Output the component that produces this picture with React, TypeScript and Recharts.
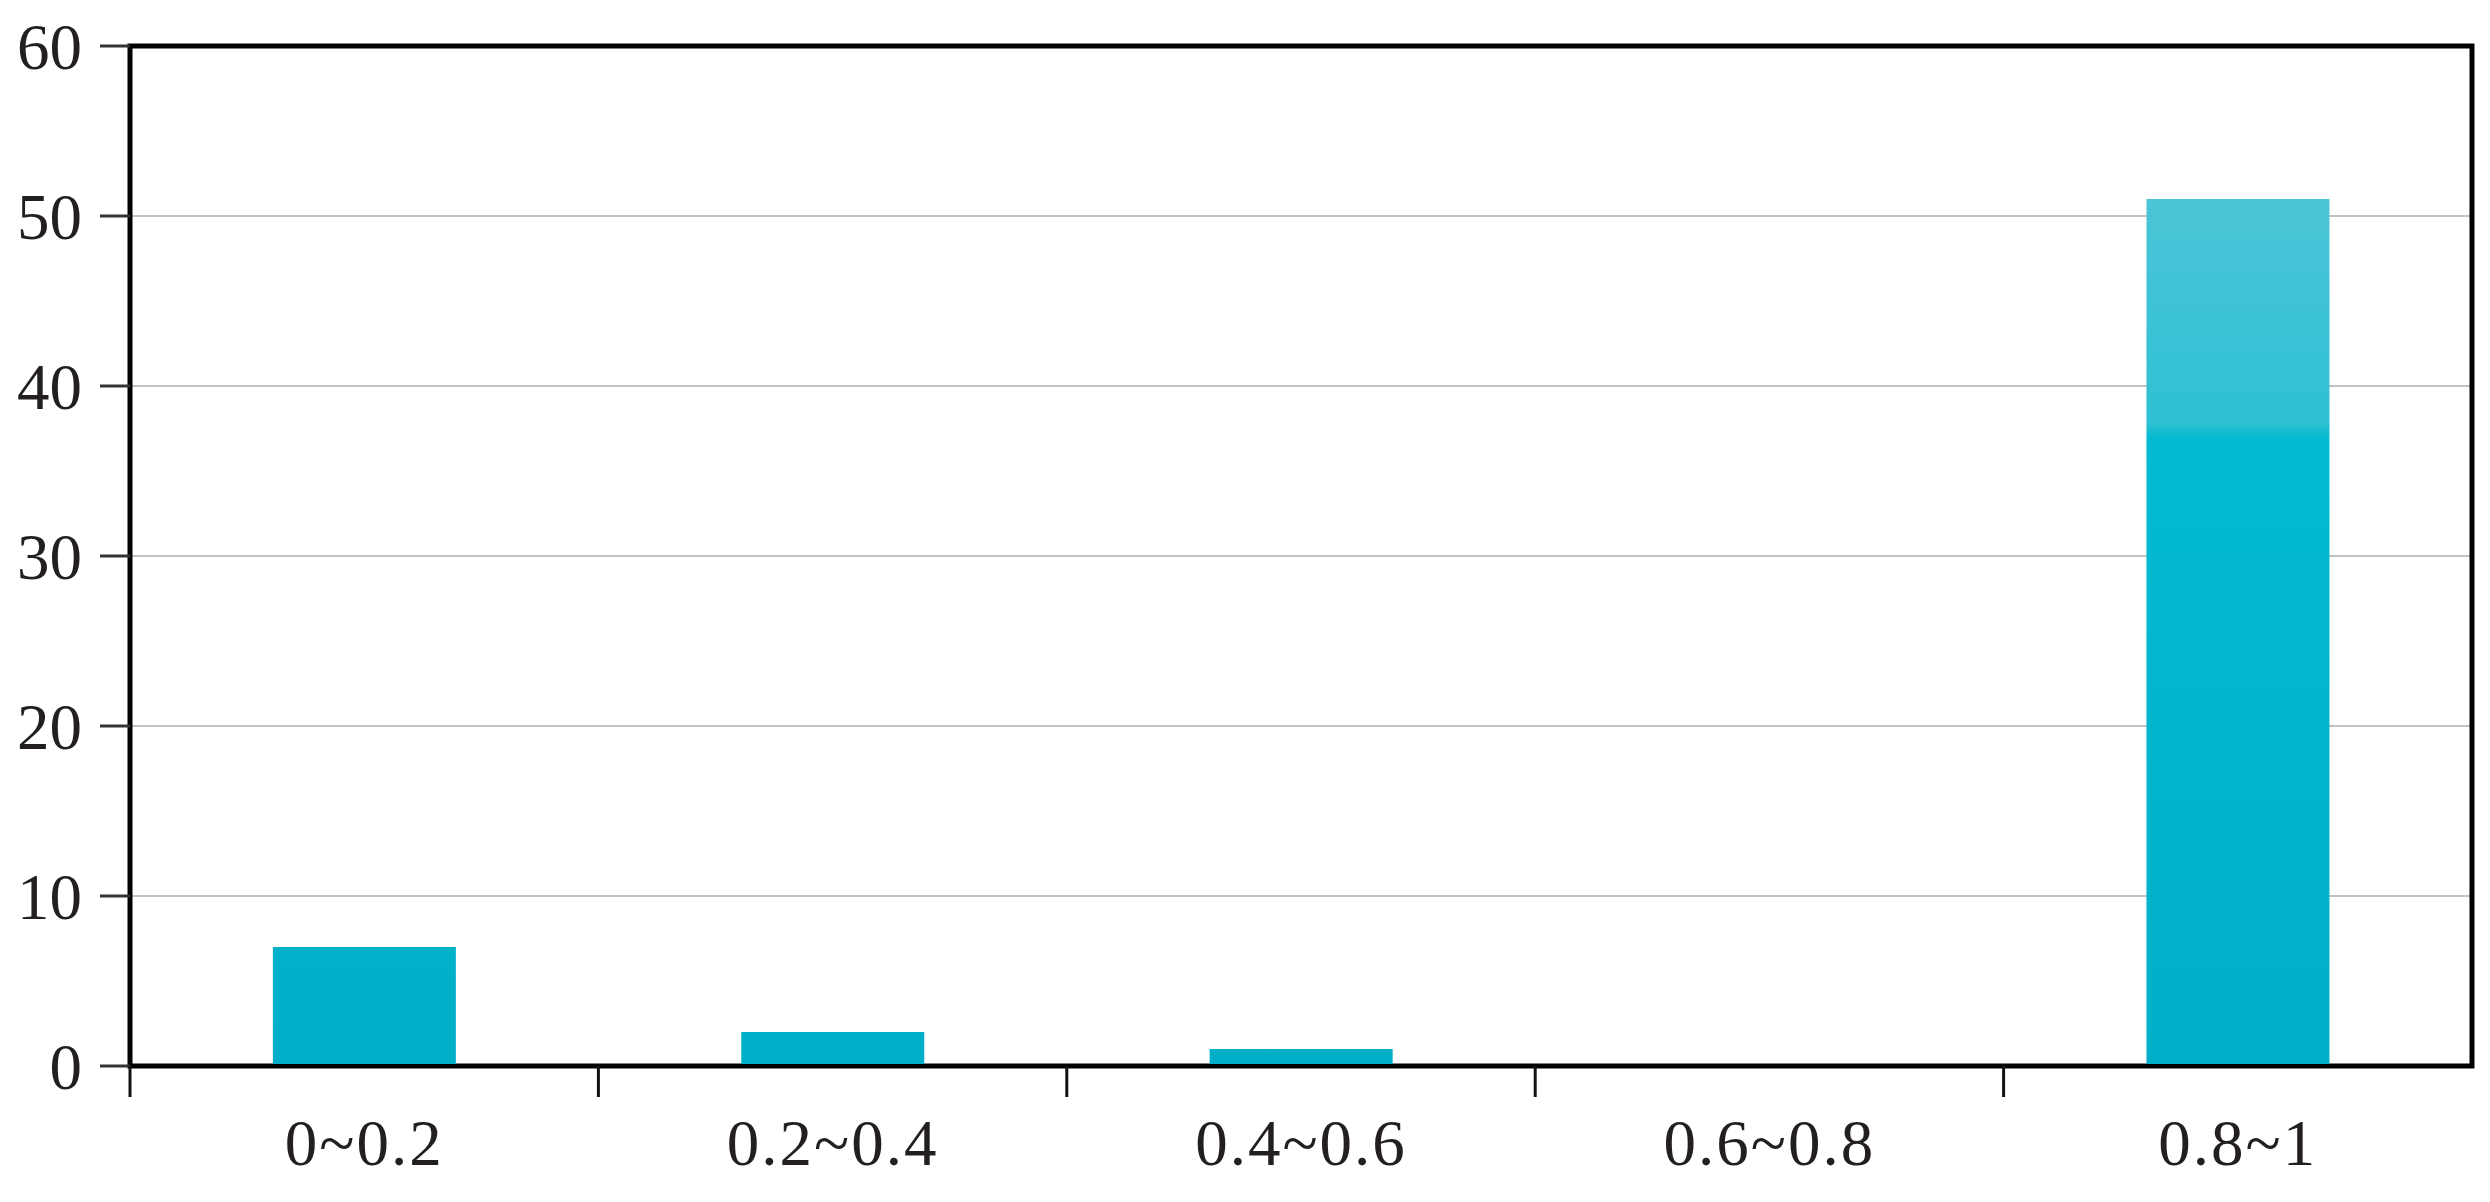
import {
  BarChart,
  Bar,
  XAxis,
  YAxis,
  CartesianGrid,
  ReferenceArea,
} from "recharts";

const categories = ["0~0.2", "0.2~0.4", "0.4~0.6", "0.6~0.8", "0.8~1"];
const counts = [7, 2, 1, 0, 51];
const yTicks = [0, 10, 20, 30, 40, 50, 60];

const data = categories.map((name, i) => ({ name, value: counts[i] }));

const WIDTH = 2490;
const HEIGHT = 1202;
const PLOT_TOP = 46;
const PLOT_BOTTOM = 1066;
const Y_AXIS_W = 130;
const MARGIN_RIGHT = 18;
const HALF_BAND = (WIDTH - Y_AXIS_W - MARGIN_RIGHT) / categories.length / 2;

const FONT = "'Liberation Serif', 'Times New Roman', serif";
const TEXT = "#231f20";

const CategoryTick = (props: any) => {
  const { x, y, payload } = props;
  return (
    <g>
      <line
        x1={x - HALF_BAND}
        x2={x - HALF_BAND}
        y1={y}
        y2={y + 31}
        stroke="#111"
        strokeWidth={3}
      />
      <text
        x={x}
        y={y + 99}
        textAnchor="middle"
        fontFamily={FONT}
        fontSize={65}
        letterSpacing={2}
        fill={TEXT}
      >
        {payload.value}
      </text>
    </g>
  );
};

const App = () => {
  return (
    <div style={{ margin: -8, width: WIDTH, height: HEIGHT, background: "#fff" }}>
      <BarChart
        width={WIDTH}
        height={HEIGHT}
        data={data}
        margin={{ top: PLOT_TOP, right: MARGIN_RIGHT, left: 0, bottom: 0 }}
        barCategoryGap="30.5%"
      >
        <defs>
          {/* shading fixed to the plot height, lighter band near the top */}
          <linearGradient
            id="barFill"
            gradientUnits="userSpaceOnUse"
            x1="0"
            y1={PLOT_TOP}
            x2="0"
            y2={PLOT_BOTTOM}
          >
            <stop offset="0.15" stopColor="#4cc5d7" />
            <stop offset="0.37" stopColor="#2ec0d4" />
            <stop offset="0.385" stopColor="#02bbd2" />
            <stop offset="1" stopColor="#00afc7" />
          </linearGradient>
        </defs>
        <CartesianGrid
          horizontal
          vertical={false}
          stroke="#c2c2c2"
          strokeWidth={2}
        />
        <XAxis
          dataKey="name"
          height={HEIGHT - PLOT_BOTTOM}
          axisLine={{ stroke: "#000", strokeWidth: 4 }}
          tickLine={false}
          tickSize={0}
          tickMargin={0}
          tick={<CategoryTick />}
          interval={0}
        />
        <YAxis
          width={Y_AXIS_W}
          domain={[0, 60]}
          ticks={yTicks}
          interval={0}
          axisLine={{ stroke: "#000", strokeWidth: 4 }}
          tickLine={{ stroke: "#333", strokeWidth: 3 }}
          tickSize={30}
          tickMargin={18}
          tick={{ fontFamily: FONT, fontSize: 65, fill: TEXT }}
        />
        <Bar
          dataKey="value"
          fill="url(#barFill)"
          isAnimationActive={false}
        />
        <ReferenceArea
          y1={0}
          y2={60}
          fill="none"
          stroke="#000"
          strokeWidth={5}
          ifOverflow="visible"
        />
      </BarChart>
    </div>
  );
};

export default App;
